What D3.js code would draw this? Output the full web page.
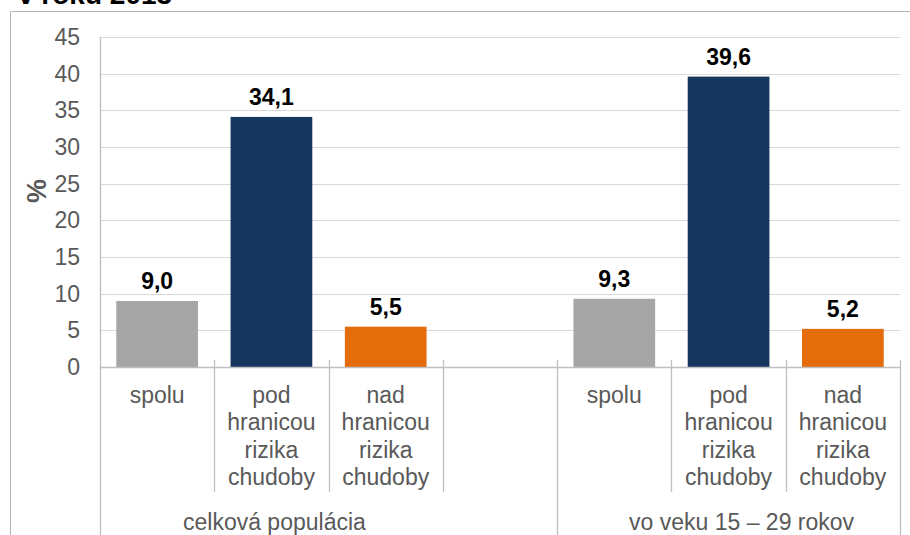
<!DOCTYPE html>
<html>
<head>
<meta charset="utf-8">
<script src="https://cdn.jsdelivr.net/npm/d3@7"></script>
<style>
  html, body { margin: 0; padding: 0; background: #fff; }
  svg { display: block; font-family: "Liberation Sans", Arial, sans-serif; }
</style>
</head>
<body>
<svg id="chart" width="910" height="535"></svg>
<script>
// ---- data ----
const categories = ["a1", "a2", "a3", "gap", "b1", "b2", "b3"];
const categoryLabels = [
  ["spolu"],
  ["pod", "hranicou", "rizika", "chudoby"],
  ["nad", "hranicou", "rizika", "chudoby"],
  [],
  ["spolu"],
  ["pod", "hranicou", "rizika", "chudoby"],
  ["nad", "hranicou", "rizika", "chudoby"]
];
const values = [9.0, 34.1, 5.5, null, 9.3, 39.6, 5.2];
const valueLabels = ["9,0", "34,1", "5,5", "", "9,3", "39,6", "5,2"];
const barColors = ["#A6A6A6", "#17375E", "#E46C0A", null, "#A6A6A6", "#17375E", "#E46C0A"];
const groups = ["celková populácia", "vo veku 15 – 29 rokov"];
const groupMembers = [["a1", "a2", "a3"], ["b1", "b2", "b3"]];
const yTicks = [0, 5, 10, 15, 20, 25, 30, 35, 40, 45];
const yTitle = "%";
const titleText = "v roku 2013";

// ---- layout ----
const W = 910, H = 535;
const plot = { left: 100, right: 900, top: 37, bottom: 367 };
const textColor = "#595959";
const gridColor = "#D9D9D9";
const axisColor = "#BFBFBF";
const font = 23;

const svg = d3.select("#chart");

const x = d3.scaleBand().domain(categories).range([plot.left, plot.right]).padding(0);
const y = d3.scaleLinear().domain([0, 45]).range([plot.bottom, plot.top]);
const barW = x.bandwidth() * 0.715;

// outer chart border (cropped)
svg.append("path")
  .attr("d", `M10.5,${H} V11.5 H${W}`)
  .attr("fill", "none").attr("stroke", "#B3B3B3").attr("stroke-width", 1);

// title (cropped at top)
svg.append("text")
  .attr("x", 18).attr("y", 4)
  .attr("font-size", 28).attr("font-weight", "bold").attr("fill", "#000")
  .text(titleText);

// gridlines
svg.append("g").selectAll("line")
  .data(yTicks.filter(d => d > 0))
  .join("line")
  .attr("x1", plot.left).attr("x2", plot.right)
  .attr("y1", d => Math.round(y(d)) + 0.5).attr("y2", d => Math.round(y(d)) + 0.5)
  .attr("stroke", gridColor).attr("stroke-width", 1);

// y tick labels
svg.append("g").selectAll("text")
  .data(yTicks)
  .join("text")
  .attr("x", 80).attr("y", d => y(d))
  .attr("dy", "0.35em")
  .attr("text-anchor", "end")
  .attr("font-size", font).attr("fill", textColor)
  .text(d => d);

// y title
svg.append("text")
  .attr("transform", `translate(46,191) rotate(-90)`)
  .attr("text-anchor", "middle")
  .attr("font-size", 27).attr("font-weight", "bold").attr("fill", textColor)
  .text(yTitle);

// bars
const barData = categories.map((c, i) => ({ c, v: values[i], label: valueLabels[i], color: barColors[i] }))
  .filter(d => d.v != null);

svg.append("g").selectAll("rect")
  .data(barData)
  .join("rect")
  .attr("x", d => x(d.c) + (x.bandwidth() - barW) / 2)
  .attr("width", barW)
  .attr("y", d => y(d.v))
  .attr("height", d => y(0) - y(d.v))
  .attr("fill", d => d.color);

// value labels
svg.append("g").selectAll("text")
  .data(barData)
  .join("text")
  .attr("x", d => x(d.c) + x.bandwidth() / 2)
  .attr("y", d => y(d.v) - 12)
  .attr("text-anchor", "middle")
  .attr("font-size", font).attr("font-weight", "bold").attr("fill", "#000")
  .text(d => d.label);

// axes lines
const axisG = svg.append("g").attr("stroke", axisColor).attr("stroke-width", 1.3);
axisG.append("line")
  .attr("x1", plot.left + 0.5).attr("x2", plot.left + 0.5)
  .attr("y1", plot.top).attr("y2", H);
axisG.append("line")
  .attr("x1", plot.left).attr("x2", plot.right)
  .attr("y1", y(0) + 0.5).attr("y2", y(0) + 0.5);

// category dividers
const dividerBottom = 492;
categories.forEach((c, i) => {
  if (i === 0) return;
  const xx = Math.round(x(c)) + 0.5;
  const full = c === "b1";
  axisG.append("line")
    .attr("x1", xx).attr("x2", xx)
    .attr("y1", y(0) - 7).attr("y2", full ? H : dividerBottom);
});
axisG.append("line")
  .attr("x1", plot.right + 0.5).attr("x2", plot.right + 0.5)
  .attr("y1", y(0) - 7).attr("y2", H);

// category labels
const lineH = 27.3;
categories.forEach((c, i) => {
  const cx = x(c) + x.bandwidth() / 2;
  const t = svg.append("text")
    .attr("text-anchor", "middle")
    .attr("font-size", font).attr("fill", textColor);
  categoryLabels[i].forEach((line, k) => {
    t.append("tspan")
      .attr("x", cx)
      .attr("y", 403 + k * lineH)
      .text(line);
  });
});

// group labels
const groupNudge = [3, 13];
groups.forEach((g, gi) => {
  const mem = groupMembers[gi];
  const x0 = x(mem[0]);
  const x1 = x(mem[mem.length - 1]) + x.bandwidth();
  svg.append("text")
    .attr("x", (x0 + x1) / 2 + groupNudge[gi])
    .attr("y", 530)
    .attr("text-anchor", "middle")
    .attr("font-size", font).attr("fill", textColor)
    .text(g);
});
</script>
</body>
</html>
